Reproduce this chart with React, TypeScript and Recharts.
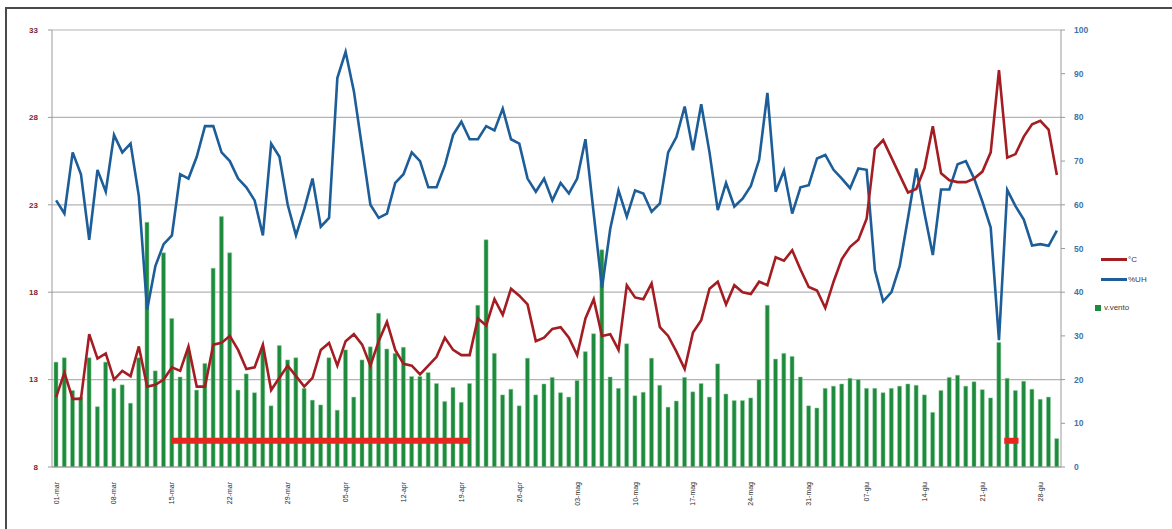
import { ComposedChart, Bar, Line, XAxis, YAxis, CartesianGrid } from 'recharts';

// giorni dal 1 marzo al 30 giugno
const mesi = ['mar', 'apr', 'mag', 'giu'];
const giorniPerMese = [31, 30, 31, 30];

const giorni: string[] = mesi.flatMap((m, k) =>
  Array.from({ length: giorniPerMese[k] }, (_, d) => `${String(d + 1).padStart(2, '0')}-${m}`)
);

// temperatura media giornaliera (°C)
const temperatura = [
  12.0, 13.4, 11.9, 11.9, 15.6, 14.2, 14.5, 13.0, 13.5, 13.2,
  14.9, 12.6, 12.7, 13.0, 13.7, 13.5, 14.9, 12.6, 12.6, 15.0,
  15.1, 15.5, 14.7, 13.6, 13.7, 15.0, 12.4, 13.1, 13.8, 13.2,
  12.6, 13.1, 14.7, 15.1, 13.8, 15.2, 15.6, 15.0, 13.8, 15.2,
  16.3, 14.7, 13.9, 13.8, 13.3, 13.8, 14.3, 15.4, 14.7, 14.4,
  14.4, 16.5, 16.1, 17.6, 16.7, 18.2, 17.8, 17.3, 15.2, 15.4,
  15.9, 16.0, 15.4, 14.4, 16.5, 17.6, 15.5, 15.6, 14.7, 18.4,
  17.7, 17.6, 18.5, 16.0, 15.5, 14.6, 13.6, 15.7, 16.4, 18.2,
  18.6, 17.3, 18.4, 18.0, 17.9, 18.6, 18.4, 20.0, 19.8, 20.4,
  19.3, 18.3, 18.1, 17.1, 18.6, 19.9, 20.6, 21.0, 22.2, 26.2,
  26.7, 25.7, 24.7, 23.7, 23.9, 25.1, 27.5, 24.8, 24.4, 24.3,
  24.3, 24.5, 24.9, 26.0, 30.7, 25.7, 25.9, 26.9, 27.6, 27.8,
  27.3, 24.7,
];

// umidità relativa (%UH)
const umidita = [
  61, 58, 72, 67, 52, 68, 63, 76, 72, 74,
  62, 36, 46, 51, 53, 67, 66, 71, 78, 78,
  72, 70, 66, 64, 61, 53, 74, 71, 60, 53,
  59, 66, 55, 57, 89, 95, 86, 73, 60, 57,
  58, 65, 67, 72, 70, 64, 64, 69, 76, 79,
  75, 75, 78, 77, 82, 75, 74, 66, 63, 66,
  61, 65, 62.6, 66, 75, 58, 41, 54.5, 63.3, 57.3,
  63.3, 62.6, 58.4, 60.3, 72, 75.5, 82.5, 72.5, 83, 72,
  58.8, 65, 59.6, 61.4, 64.3, 70.3, 85.6, 63, 67.8, 58,
  64, 64.5, 70.6, 71.4, 68, 66, 63.8, 68.3, 68, 45,
  37.9, 40, 46, 57, 68.3, 58, 48.5, 63.5, 63.5, 69.3,
  70, 66, 60.7, 54.8, 29, 63.4, 59.7, 56.6, 50.7, 51,
  50.6, 54.1,
];

// velocità del vento
const vento = [
  24, 25, 17.5, 16, 25, 13.8, 24, 18, 18.8, 14.6,
  25, 56, 22, 49, 34, 20.6, 26.5, 17.6, 23.7, 45.5,
  57.3, 49, 17.6, 21.3, 17, 27, 14, 27.8, 24.5, 25,
  18, 15.3, 14.2, 25, 13, 26.8, 16, 24.5, 27.5, 35.2,
  27, 26, 27.4, 20.7, 20.7, 21.6, 19.1, 15, 18.2, 14.8,
  19.1, 37, 52, 26, 16.5, 17.8, 14, 24.9, 16.5, 19,
  20.5, 17, 16, 19.8, 26.4, 30.5, 49.7, 20.6, 18, 28.2,
  16.3, 17.1, 24.9, 18.7, 13.7, 15.1, 20.5, 17.2, 19.1, 16,
  23.6, 16.7, 15.2, 15.2, 15.8, 20, 37, 24.7, 26, 25.3,
  20.6, 14, 13.5, 18, 18.5, 19, 20.3, 20, 18, 18,
  17, 18, 18.5, 19, 18.7, 16.5, 12.5, 17.5, 20.5, 21,
  18.5, 19.5, 17.7, 15.8, 28.5, 20.3, 17.5, 19.6, 17.8, 15.5,
  16, 6.5,
];

// periodi evidenziati (indice giorno iniziale, finale) e quota sull'asse °C
const periodi: [number, number][] = [[14, 50], [115, 116]];
const quotaPeriodo = 9.5;

const tickTemp = [8, 13, 18, 23, 28, 33];
const tickUmidita = [0, 10, 20, 30, 40, 50, 60, 70, 80, 90, 100];

const inPeriodo = (i: number, p: [number, number]) => (i >= p[0] && i <= p[1] ? quotaPeriodo : null);

const data = giorni.map((giorno, i) => ({
  giorno,
  temp: temperatura[i],
  uh: umidita[i],
  vento: vento[i],
  periodoA: inPeriodo(i, periodi[0]),
  periodoB: inPeriodo(i, periodi[1]),
}));

const FONT = '"Liberation Sans", Arial, sans-serif';

function GiornoTick({ x, y, payload }: any) {
  return (
    <text
      transform={`translate(${x},${y}) rotate(-90)`}
      textAnchor="end"
      dy="0.35em"
      fontSize={7}
      fontFamily={FONT}
      fill="#2a2a2a"
    >
      {payload.value}
    </text>
  );
}

function LegendaLinea({ top, color, label }: { top: number; color: string; label: string }) {
  return (
    <div style={{ position: 'absolute', left: 1101, top, display: 'flex', alignItems: 'center' }}>
      <div style={{ width: 26, height: 2.5, background: color }} />
      <span style={{ marginLeft: 1 }}>{label}</span>
    </div>
  );
}

export default function App() {
  return (
    <div style={{ position: 'absolute', left: 0, top: 0, width: 1172, height: 529, overflow: 'hidden', background: '#fff' }}>
      <div
        style={{
          position: 'absolute',
          left: 5,
          top: 7,
          width: 1200,
          height: 560,
          borderLeft: '2px solid #4a4a4a',
          borderTop: '2px solid #4a4a4a',
        }}
      />
      <div style={{ position: 'absolute', left: 0, top: 0 }}>
        <ComposedChart
          width={1172}
          height={529}
          data={data}
          margin={{ top: 30, right: 61, bottom: 0, left: 0 }}
          barCategoryGap="50%"
        >
          <CartesianGrid yAxisId="t" vertical={false} stroke="#b4b4b4" strokeWidth={1.2} />
          <XAxis
            dataKey="giorno"
            interval={6}
            height={62}
            tickSize={0}
            tickMargin={15}
            tickLine={false}
            tick={<GiornoTick />}
            axisLine={{ stroke: '#9a9a9a' }}
          />
          <YAxis
            yAxisId="t"
            orientation="left"
            domain={[8, 33]}
            ticks={tickTemp}
            width={52}
            tickSize={4}
            tickMargin={10}
            axisLine={{ stroke: '#9a9a9a' }}
            tickLine={{ stroke: '#9a9a9a' }}
            tick={{ fontSize: 8, fontWeight: 700, fill: '#7d2432', fontFamily: FONT }}
          />
          <YAxis
            yAxisId="uh"
            orientation="right"
            domain={[0, 100]}
            ticks={tickUmidita}
            width={50}
            tickSize={4}
            tickMargin={9}
            axisLine={{ stroke: '#9a9a9a' }}
            tickLine={{ stroke: '#9a9a9a' }}
            tick={{ fontSize: 8.5, fontWeight: 700, fill: '#3f73a8', fontFamily: FONT }}
          />
          <Bar
            yAxisId="uh"
            dataKey="vento"
            name="v.vento"
            fill="#1d8a3c"
            stroke="#8fd0a0"
            strokeOpacity={0.5}
            strokeWidth={1}
            barSize={4}
            isAnimationActive={false}
          />
          <Line
            yAxisId="uh"
            dataKey="uh"
            name="%UH"
            type="linear"
            stroke="#1d5d98"
            strokeWidth={2.6}
            dot={false}
            isAnimationActive={false}
          />
          <Line
            yAxisId="t"
            dataKey="temp"
            name="°C"
            type="linear"
            stroke="#a31d22"
            strokeWidth={2.6}
            dot={false}
            isAnimationActive={false}
          />
          <Line
            yAxisId="t"
            dataKey="periodoA"
            stroke="#e8261e"
            strokeWidth={6}
            strokeLinecap="butt"
            dot={false}
            connectNulls={false}
            isAnimationActive={false}
          />
          <Line
            yAxisId="t"
            dataKey="periodoB"
            stroke="#e8261e"
            strokeWidth={6}
            strokeLinecap="square"
            dot={false}
            connectNulls={false}
            isAnimationActive={false}
          />
        </ComposedChart>
      </div>
      <div style={{ position: 'absolute', left: 0, top: 0, fontFamily: FONT, fontSize: 8, color: '#3c3c3c' }}>
        <LegendaLinea top={255} color="#a31d22" label="°C" />
        <LegendaLinea top={275} color="#1d5d98" label="%UH" />
        <div style={{ position: 'absolute', left: 1095, top: 303, display: 'flex', alignItems: 'center' }}>
          <div style={{ width: 6, height: 6, background: '#1d8a3c' }} />
          <span style={{ marginLeft: 3 }}>v.vento</span>
        </div>
      </div>
    </div>
  );
}
